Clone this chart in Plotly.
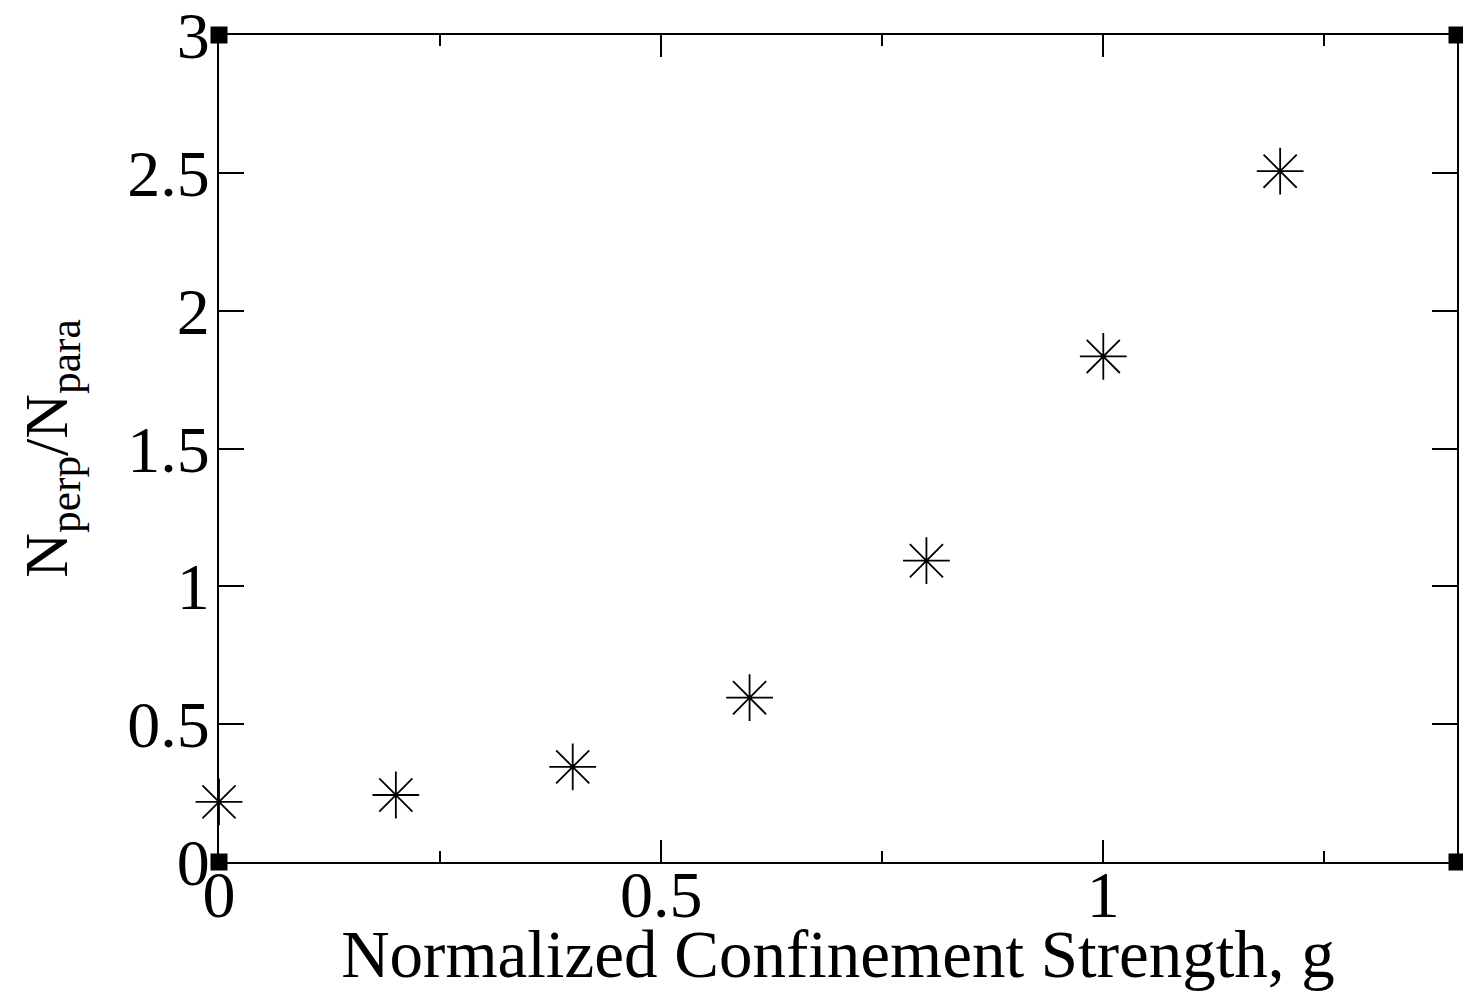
import plotly.graph_objects as go

g_values = [0.0, 0.2, 0.4, 0.6, 0.8, 1.0, 1.2]
ratio_values = [0.218, 0.243, 0.345, 0.596, 1.093, 1.834, 2.506]

x_range = [0, 1.4]
y_range = [0, 3]
x_ticks = [0, 0.5, 1]
x_ticklabels = ["0", "0.5", "1"]
y_ticks = [0, 0.5, 1, 1.5, 2, 2.5, 3]
y_ticklabels = ["0", "0.5", "1", "1.5", "2", "2.5", "3"]

FONT = "Liberation Serif"

fig = go.Figure()
fig.add_trace(go.Scatter(
    x=g_values, y=ratio_values, mode="markers",
    marker=dict(symbol="asterisk-open", size=39, color="black",
                line=dict(color="black", width=1.8)),
    cliponaxis=False, showlegend=False,
))
# corner squares at the axis frame corners
fig.add_trace(go.Scatter(
    x=[x_range[0], x_range[0], x_range[1], x_range[1]],
    y=[y_range[0], y_range[1], y_range[0], y_range[1]],
    mode="markers",
    marker=dict(symbol="square", size=17, color="black"),
    cliponaxis=False, showlegend=False, hoverinfo="skip",
))

fig.update_layout(
    width=1463, height=991,
    margin=dict(l=219, r=6, t=35, b=129, autoexpand=False),
    paper_bgcolor="white", plot_bgcolor="white",
    font=dict(family=FONT, color="black"),
    showlegend=False,
)
fig.update_xaxes(
    range=x_range, tickvals=x_ticks, ticktext=x_ticklabels,
    showgrid=False, zeroline=False, automargin=False,
    showline=True, linecolor="black", linewidth=2, mirror="ticks",
    ticks="inside", ticklen=22, tickwidth=2, tickcolor="black",
    minor=dict(dtick=0.25, ticks="inside", ticklen=11, tickwidth=2, tickcolor="black", showgrid=False),
    tickfont=dict(family=FONT, size=66, color="black"),
    ticklabelstandoff=-26, ticklabeloverflow="allow",
    title=dict(text="Normalized Confinement Strength, g",
               font=dict(family=FONT, size=67, color="black"), standoff=0),
)
fig.update_yaxes(
    range=y_range, tickvals=y_ticks, ticktext=y_ticklabels,
    showgrid=False, zeroline=False, automargin=False,
    showline=True, linecolor="black", linewidth=2, mirror="ticks",
    ticks="inside", ticklen=25, tickwidth=2, tickcolor="black",
    tickfont=dict(family=FONT, size=66, color="black"),
    ticklabelstandoff=-6, ticklabeloverflow="allow",
    title=dict(text="N<sub>perp</sub>/N<sub>para</sub>",
               font=dict(family=FONT, size=62, color="black"), standoff=40),
)

fig.write_html("out.html")
